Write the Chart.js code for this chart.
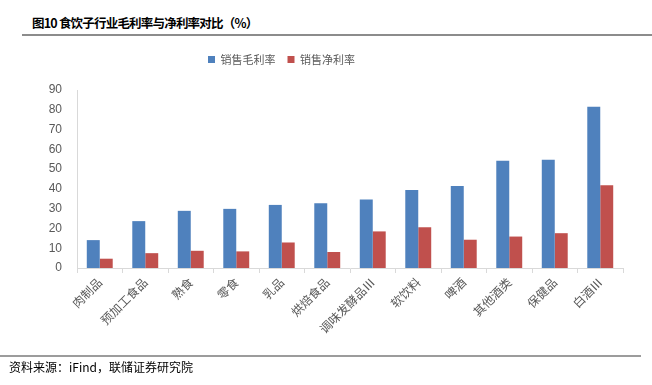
<!DOCTYPE html>
<html>
<head>
<meta charset="utf-8">
<script src="https://cdn.jsdelivr.net/npm/chart.js@4/dist/chart.umd.min.js"></script>
<style>
  body { margin: 0; background: #fff; width: 652px; height: 385px; position: relative; overflow: hidden; font-family: "Noto Sans CJK SC", sans-serif; }
  #title { position: absolute; left: 32px; top: 13px; font-size: 12.5px; font-weight: bold; letter-spacing: -0.8px; color: #000; }
  #topline { position: absolute; left: 22px; top: 34px; width: 630px; height: 2px; background: #8c8c8c; }
  #botline { position: absolute; left: 0; top: 355px; width: 641px; height: 2px; background: #9c9c9c; }
  #source { position: absolute; left: 9px; top: 358px; font-size: 12px; color: #000; }
  #wrap { position: absolute; left: 0; top: 0; width: 652px; height: 385px; }
</style>
</head>
<body>
<div id="title">图10 食饮子行业毛利率与净利率对比（%）</div>
<div id="topline"></div>
<div id="wrap"><canvas id="bars"></canvas></div>
<div id="botline"></div>
<div id="source">资料来源：iFind，联储证券研究院</div>
<script>
var categories = ['肉制品', '预加工食品', '熟食', '零食', '乳品', '烘焙食品', '调味发酵品Ⅲ', '软饮料', '啤酒', '其他酒类', '保健品', '白酒Ⅲ'];
var grossMargin = [14.1, 23.7, 28.9, 29.9, 31.9, 32.7, 34.6, 39.4, 41.4, 54.2, 54.7, 81.5];
var netMargin = [4.7, 7.5, 8.7, 8.4, 12.9, 8.1, 18.5, 20.6, 14.3, 15.9, 17.6, 41.9];
var yTicks = [0, 10, 20, 30, 40, 50, 60, 70, 80, 90];

var cjk = '"Noto Sans CJK SC", sans-serif';

// legend sits left of centre and well above the plot in the original
var legendShift = {
    id: 'legendShift',
    afterLayout: function (chart) {
        var lg = chart.legend;
        lg.left -= 30;
        lg.right -= 30;
        lg.top -= 15;
        lg.bottom -= 15;
    }
};

var ctx = document.getElementById('bars').getContext('2d');
var chart = new Chart(ctx, {
    type: 'bar',
    data: {
        labels: categories,
        datasets: [{
            label: '销售毛利率',
            data: grossMargin,
            backgroundColor: '#4F81BD',
            categoryPercentage: 0.57,
            barPercentage: 1
        }, {
            label: '销售净利率',
            data: netMargin,
            backgroundColor: '#C0504D',
            categoryPercentage: 0.57,
            barPercentage: 1
        }]
    },
    plugins: [legendShift],
    options: {
        responsive: true,
        maintainAspectRatio: false,
        animation: false,
        layout: { padding: { top: 57, right: 29, bottom: 37, left: 0 } },
        plugins: {
            legend: {
                position: 'top',
                labels: {
                    boxWidth: 7,
                    boxHeight: 7,
                    padding: 12,
                    color: '#595959',
                    font: { family: cjk, size: 11 }
                }
            },
            tooltip: { enabled: false }
        },
        scales: {
            x: {
                grid: { offset: true, drawOnChartArea: false, tickLength: 5, color: '#d9d9d9' },
                border: { color: '#d9d9d9' },
                ticks: {
                    color: '#595959',
                    font: { family: cjk, size: 12 },
                    maxRotation: 45,
                    minRotation: 45,
                    padding: 2
                },
                afterFit: function (s) { s.height = 80; }
            },
            y: {
                min: 0,
                max: 90,
                afterBuildTicks: function (s) { s.ticks = yTicks.map(function (v) { return { value: v }; }); },
                grid: { display: false },
                border: { color: '#d9d9d9' },
                ticks: {
                    color: '#595959',
                    font: { family: '"Liberation Sans", Arial, sans-serif', size: 12 },
                    padding: 7
                },
                afterFit: function (s) { s.width = 77; }
            }
        }
    }
});
</script>
</body>
</html>
